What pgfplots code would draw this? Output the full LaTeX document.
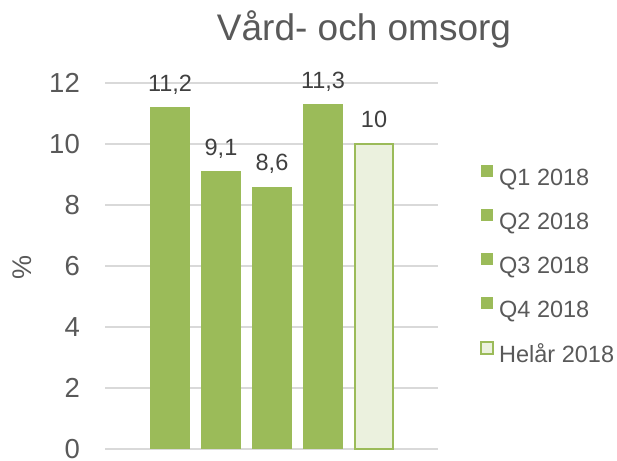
\documentclass[border=0pt]{standalone}
\usepackage{pgfplots}
\pgfplotsset{compat=1.18}
\usepackage{fontspec}
\setmainfont{Liberation Sans}
\definecolor{bargreen}{HTML}{9BBB59}
\definecolor{barlight}{HTML}{EBF1DE}
\definecolor{txtgray}{HTML}{595959}
\definecolor{lblgray}{HTML}{404040}
\definecolor{gridgray}{HTML}{D9D9D9}
\begin{document}
\begin{tikzpicture}
\useasboundingbox (-105pt,-11pt) rectangle (512pt,449pt);
\begin{axis}[
  at={(0pt,0pt)}, anchor=south west,
  scale only axis, width=333pt, height=366pt,
  xmin=-1.275, xmax=5.255, ymin=0, ymax=12,
  ytick={0,2,...,12}, xtick=\empty,
  axis line style={draw=none},
  major tick length=0pt,
  ymajorgrids, grid style={gridgray, line width=1.5pt},
  /pgf/number format/assume math mode=true,
  yticklabel style={font=\fontsize{27.5}{30}\selectfont, text=txtgray, anchor=east, inner sep=0pt, xshift=-25pt},
  ybar, bar width=40pt, bar shift=0pt,
  clip=false,
  nodes near coords,
  nodes near coords style={font=\fontsize{23.5}{26}\selectfont, text=lblgray, anchor=base, yshift=16pt,
    /pgf/number format/.cd, use comma, fixed, precision=1},
  legend cell align=left,
  legend style={at={(1.126,0.5)}, anchor=west, draw=none, fill=none, inner sep=0pt,
    font=\fontsize{23.5}{26}\selectfont, text=txtgray,
    row sep=19pt, column sep=5pt,
    nodes={inner sep=0pt, text height=17pt, text depth=5pt}},
  legend image code/.code={\path[#1] (0pt,2pt) rectangle (12pt,14pt);},
]
\addplot[fill=bargreen, draw=none, bar shift=0pt] coordinates {(0,11.2)};
\addlegendentry{Q1 2018}
\addplot[fill=bargreen, draw=none, bar shift=0pt] coordinates {(1,9.1)};
\addlegendentry{Q2 2018}
\addplot[fill=bargreen, draw=none, bar shift=0pt] coordinates {(2,8.6)};
\addlegendentry{Q3 2018}
\addplot[fill=bargreen, draw=none, bar shift=0pt] coordinates {(3,11.3)};
\addlegendentry{Q4 2018}
\addplot[fill=barlight, draw=bargreen, line width=2pt, bar shift=0pt, bar width=38pt] coordinates {(4,10)};
\addlegendentry{Helår 2018}
\end{axis}
\node[anchor=base, font=\fontsize{37}{40}\selectfont, text=txtgray] at (259pt,408pt) {Vård- och omsorg};
\node[rotate=90, font=\fontsize{27}{30}\selectfont, text=txtgray] at (-83pt,182pt) {\%};
\end{tikzpicture}
\end{document}
